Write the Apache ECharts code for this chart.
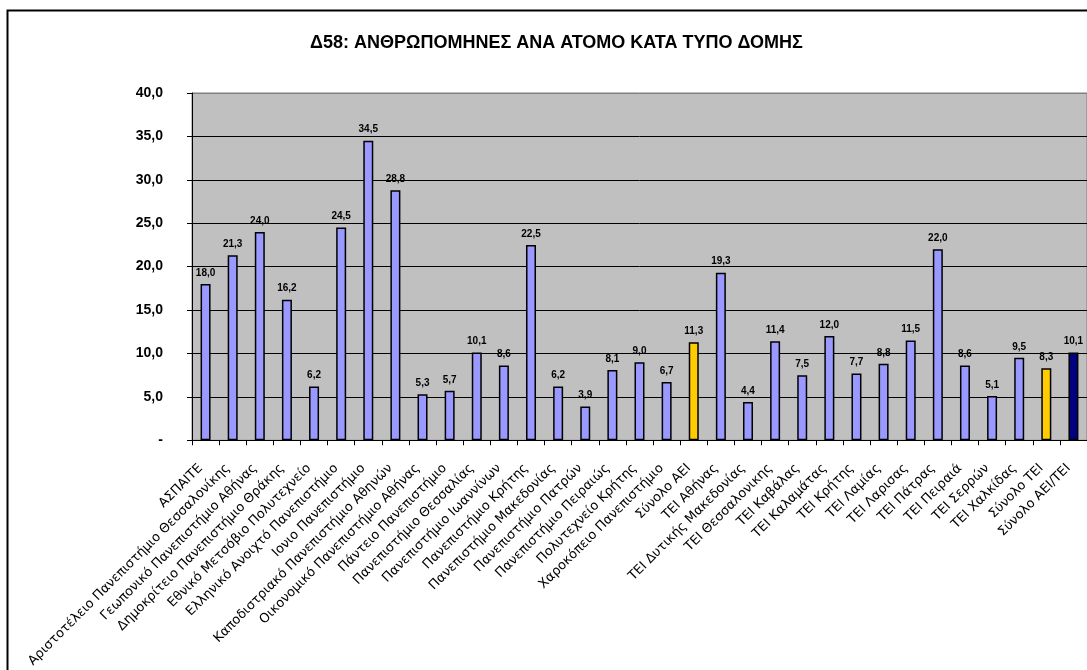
<!DOCTYPE html>
<html>
<head>
<meta charset="utf-8">
<script src="https://cdn.jsdelivr.net/npm/echarts@6/dist/echarts.min.js"></script>
<style>
  html, body { margin: 0; padding: 0; background: #fff; }
  #chart { width: 1087px; height: 670px; }
</style>
</head>
<body>
<div id="chart"></div>
<script>
const titleText = 'Δ58: ΑΝΘΡΩΠΟΜΗΝΕΣ ΑΝΑ ΑΤΟΜΟ ΚΑΤΑ ΤΥΠΟ ΔΟΜΗΣ';

const categories = [
  'ΑΣΠΑΙΤΕ',
  'Αριστοτέλειο Πανεπιστήμιο Θεσσαλονίκης',
  'Γεωπονικό Πανεπιστήμιο Αθήνας',
  'Δημοκρίτειο Πανεπιστήμιο Θράκης',
  'Εθνικό Μετσόβιο Πολυτεχνείο',
  'Ελληνικό Ανοιχτό Πανεπιστήμιο',
  'Ιονιο Πανεπιστήμιο',
  'Καποδιστριακό Πανεπιστήμιο Αθηνών',
  'Οικονομικό Πανεπιστήμιο Αθήνας',
  'Πάντειο Πανεπιστήμιο',
  'Πανεπιστήμιο Θεσσαλίας',
  'Πανεπιστήμιο Ιωαννίνων',
  'Πανεπιστήμιο Κρήτης',
  'Πανεπιστήμιο Μακεδονίας',
  'Πανεπιστήμιο Πατρών',
  'Πανεπιστήμιο Πειραιώς',
  'Πολυτεχνείο Κρήτης',
  'Χαροκόπειο Πανεπιστήμιο',
  'Σύνολο ΑΕΙ',
  'ΤΕΙ Αθήνας',
  'ΤΕΙ Δυτικής Μακεδονίας',
  'ΤΕΙ Θεσσαλονικης',
  'ΤΕΙ Καβάλας',
  'ΤΕΙ Καλαμάτας',
  'ΤΕΙ Κρήτης',
  'ΤΕΙ Λαμίας',
  'ΤΕΙ Λαρισας',
  'ΤΕΙ Πάτρας',
  'ΤΕΙ Πειραιά',
  'ΤΕΙ Σερρών',
  'ΤΕΙ Χαλκίδας',
  'Σύνολο ΤΕΙ',
  'Σύνολο ΑΕΙ/ΤΕΙ'
];

const values = [
  18.0, 21.3, 24.0, 16.2, 6.2, 24.5, 34.5, 28.8, 5.3, 5.7,
  10.1, 8.6, 22.5, 6.2, 3.9, 8.1, 9.0, 6.7, 11.3, 19.3,
  4.4, 11.4, 7.5, 12.0, 7.7, 8.8, 11.5, 22.0, 8.6, 5.1,
  9.5, 8.3, 10.1
];

const subtotalCategories = ['Σύνολο ΑΕΙ', 'Σύνολο ΤΕΙ'];
const grandTotalCategories = ['Σύνολο ΑΕΙ/ΤΕΙ'];

const yTicks = [0, 5, 10, 15, 20, 25, 30, 35, 40];

function fmt(v) {
  return v === 0 ? '-' : v.toFixed(1).replace('.', ',');
}

const chart = echarts.init(document.getElementById('chart'), null, { renderer: 'canvas' });

chart.setOption({
  animation: false,
  backgroundColor: '#ffffff',
  title: {
    text: titleText,
    left: 305,
    top: 29,
    textStyle: { fontFamily: 'Liberation Sans, Arial, sans-serif', fontSize: 18, fontWeight: 'bold', color: '#000' }
  },
  graphic: [{
    type: 'rect',
    shape: { x: 7.5, y: 10.5, width: 1200, height: 1000 },
    style: { fill: null, stroke: '#000', lineWidth: 2 },
    silent: true,
    z: 100
  }],
  grid: {
    left: 192,
    top: 93,
    right: -3,
    bottom: 229,
    show: true,
    backgroundColor: '#C0C0C0',
    borderColor: '#808080',
    borderWidth: 1,
    containLabel: false
  },
  xAxis: {
    type: 'category',
    data: categories,
    boundaryGap: true,
    axisLine: { show: true, lineStyle: { color: '#000', width: 1 } },
    axisTick: { show: true, inside: false, length: 5, lineStyle: { color: '#000' } },
    axisLabel: {
      interval: 0,
      rotate: 45,
      margin: 21,
      padding: [0, 7, 0, 0],
      fontFamily: 'DejaVu Sans, sans-serif',
      fontSize: 13,
      color: '#000'
    },
    splitLine: { show: false }
  },
  yAxis: {
    type: 'value',
    min: yTicks[0],
    max: yTicks[yTicks.length - 1],
    interval: 5,
    axisLine: { show: true, lineStyle: { color: '#000', width: 1 } },
    axisTick: { show: true, inside: false, length: 5, lineStyle: { color: '#000' } },
    axisLabel: {
      margin: 29,
      formatter: fmt,
      fontFamily: 'Liberation Sans, Arial, sans-serif',
      fontSize: 14,
      fontWeight: 'bold',
      color: '#000'
    },
    splitLine: {
      show: true,
      lineStyle: { color: ['#000', '#000', '#000', '#000', '#000', '#000', '#000', '#000', '#808080'], width: 1 }
    }
  },
  series: [{
    type: 'bar',
    data: values,
    barWidth: 10,
    itemStyle: {
      color: function (p) {
        if (grandTotalCategories.indexOf(p.name) >= 0) return '#000080';
        if (subtotalCategories.indexOf(p.name) >= 0) return '#FFCC00';
        return '#9999FF';
      },
      borderColor: '#000',
      borderWidth: 1.5
    },
    label: {
      show: true,
      position: 'top',
      distance: 6,
      formatter: function (p) { return fmt(p.value); },
      fontFamily: 'Liberation Sans, Arial, sans-serif',
      fontSize: 10,
      fontWeight: 'bold',
      color: '#000'
    }
  }]
});
</script>
</body>
</html>
